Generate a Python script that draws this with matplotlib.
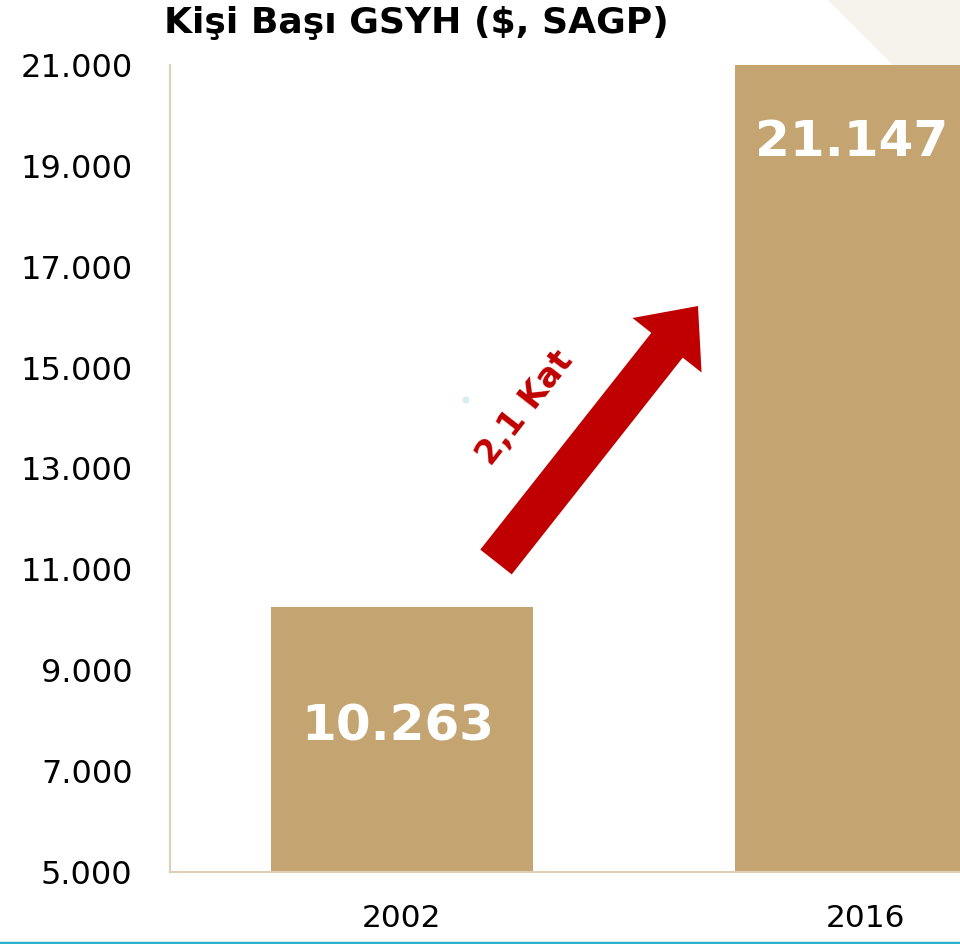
import matplotlib
matplotlib.use("Agg")
import matplotlib.pyplot as plt
from matplotlib.patches import FancyArrow, Polygon, Circle
from matplotlib.transforms import IdentityTransform

categories = ["2002", "2016"]
values = [10263, 21147]
value_labels = ["10.263", "21.147"]
yticks = [5000, 7000, 9000, 11000, 13000, 15000, 17000, 19000, 21000]
ytick_labels = ["5.000", "7.000", "9.000", "11.000", "13.000", "15.000", "17.000", "19.000", "21.000"]

W, H = 960, 944
fig = plt.figure(figsize=(W / 100, H / 100), dpi=100)
fig.patch.set_facecolor("white")

# decorative beige triangle top-right
tri = Polygon([(828, H), (W, H), (W, H - 132)], closed=True,
              facecolor="#f5f3ec", edgecolor="none", transform=IdentityTransform(), zorder=0)
fig.add_artist(tri)

ax = fig.add_axes([170 / W, (H - 872) / H, (1098 - 170) / W, (872 - 65) / H])
ax.patch.set_alpha(0)
bar_color = "#c4a572"
x = range(len(categories))
bars = ax.bar(x, values, width=263 / 465, color=bar_color, zorder=2)
ax.set_ylim(5000, 21000)
ax.set_xlim(-0.5, 1.5)
ax.set_yticks(yticks)
ax.set_yticklabels(ytick_labels, fontsize=23, family="DejaVu Sans")
ax.set_xticks(list(x))
ax.set_xticklabels(categories, fontsize=22.5, family="DejaVu Sans")
ax.tick_params(length=0)
ax.tick_params(axis="y", pad=27)
ax.tick_params(axis="x", pad=23)
for s in ["top", "right"]:
    ax.spines[s].set_visible(False)
for s in ["left", "bottom"]:
    ax.spines[s].set_color("#ddd0b4")
    ax.spines[s].set_linewidth(1.5)

# value labels
ax.text(-0.008, 7875, value_labels[0], ha="center", va="center", color="white",
        fontsize=36, fontweight="bold", zorder=3)
ax.text(0.969, 19470, value_labels[1], ha="center", va="center", color="white",
        fontsize=36, fontweight="bold", zorder=3, clip_on=False)

# title
fig.text(416 / W, 1 - 23 / H, "Kişi Başı GSYH ($, SAGP)", ha="center", va="center",
         fontsize=26, fontweight="bold", color="black")

# arrow (display pixel coords, image y flipped)
tail = (496, H - 562)
tip = (698, H - 306)
dx, dy = tip[0] - tail[0], tip[1] - tail[1]
arr = FancyArrow(tail[0], tail[1], dx, dy, width=40, head_width=88, head_length=50,
                 length_includes_head=True, color="#c00000", transform=IdentityTransform(),
                 linewidth=0, zorder=5)
fig.add_artist(arr)
fig.text(525 / W, 1 - 408 / H, "2,1 Kat", rotation=52, ha="center", va="center",
         fontsize=24, fontweight="bold", color="#c00000")

# tiny light-blue dot
fig.add_artist(Circle((466, H - 400), 3.5, facecolor="#d4eef2", edgecolor="none",
                      transform=IdentityTransform()))

# bottom teal line
fig.add_artist(plt.Line2D([0, 1], [1.5 / H, 1.5 / H], color="#2ab0c8", linewidth=2.5,
                          transform=fig.transFigure))

fig.savefig("out.png", dpi=100)
